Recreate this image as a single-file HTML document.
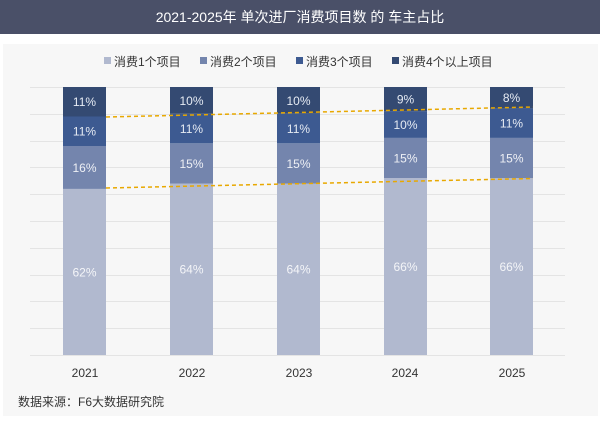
<!DOCTYPE html><html><head><meta charset="utf-8"><style>
body{margin:0;width:600px;height:425px;background:#fff;font-family:"Liberation Sans","Noto Sans CJK SC",sans-serif;position:relative;overflow:hidden}
.t{position:absolute;left:0;top:0;width:600px;height:34px;background:#4a5068;color:#fff;font-size:14px;text-align:center;line-height:34px}
.bg{position:absolute;left:3px;top:44px;width:595px;height:372px;background:#f7f7f7}
</style></head><body>
<div class="t">2021-2025年 单次进厂消费项目数 的 车主占比</div>
<div class="bg"></div>
<svg width="600" height="425" style="position:absolute;left:0;top:0" font-family="Liberation Sans, Noto Sans CJK SC, sans-serif">
<g font-size="12" fill="#333">
<rect x="104" y="57" width="7" height="7" fill="#b1b9cf"/><text x="114" y="66">消费1个项目</text>
<rect x="200" y="57" width="7" height="7" fill="#7485ad"/><text x="210" y="66">消费2个项目</text>
<rect x="296" y="57" width="7" height="7" fill="#3d5a91"/><text x="306" y="66">消费3个项目</text>
<rect x="392" y="57" width="7" height="7" fill="#344a72"/><text x="402" y="66">消费4个以上项目</text>
</g>
<g stroke="#e4e4e4" stroke-width="1">
<line x1="30" x2="565" y1="87.5" y2="87.5"/><line x1="30" x2="565" y1="114.5" y2="114.5"/><line x1="30" x2="565" y1="141.5" y2="141.5"/><line x1="30" x2="565" y1="167.5" y2="167.5"/><line x1="30" x2="565" y1="194.5" y2="194.5"/><line x1="30" x2="565" y1="221.5" y2="221.5"/><line x1="30" x2="565" y1="248.5" y2="248.5"/><line x1="30" x2="565" y1="275.5" y2="275.5"/><line x1="30" x2="565" y1="301.5" y2="301.5"/><line x1="30" x2="565" y1="328.5" y2="328.5"/><line x1="30" x2="565" y1="355.5" y2="355.5"/>
</g>
<g id="bars" font-size="12" fill="#fff" text-anchor="middle"></g>
<line x1="106" y1="117" x2="533" y2="107" stroke="#e8a800" stroke-width="1.5" stroke-dasharray="4,3"/>
<line x1="106" y1="188" x2="533" y2="178.5" stroke="#e8a800" stroke-width="1.5" stroke-dasharray="4,3"/>
<g font-size="12" fill="#333" text-anchor="middle">
<text x="85" y="377">2021</text><text x="192" y="377">2022</text><text x="299" y="377">2023</text><text x="405" y="377">2024</text><text x="512" y="377">2025</text>
</g>
<text x="18" y="406" font-size="12" fill="#333">数据来源：F6大数据研究院</text>
</svg>
<script>
var d=[[63,62,16,11,11],[170,64,15,11,10],[277,64,15,11,10],[384,66,15,10,9],[490,66,15,11,8]];
var c=["#b1b9cf","#7485ad","#3d5a91","#344a72"],tc=["#f4f5f8","#eef0f5","#e6ebf3","#e6ebf3"];
var g=document.getElementById('bars'),s='';
d.forEach(function(r){var y=355,tot=r[1]+r[2]+r[3]+r[4];for(var i=0;i<4;i++){var h=r[i+1]/tot*268;y-=h;
s+='<rect x="'+r[0]+'" y="'+y.toFixed(1)+'" width="43" height="'+h.toFixed(1)+'" fill="'+c[i]+'"/>';
s+='<text x="'+(r[0]+21.5)+'" y="'+(y+h/2+4.5).toFixed(1)+'" fill="'+tc[i]+'">'+r[i+1]+'%</text>';}});
g.innerHTML=s;
</script>
</body></html>
